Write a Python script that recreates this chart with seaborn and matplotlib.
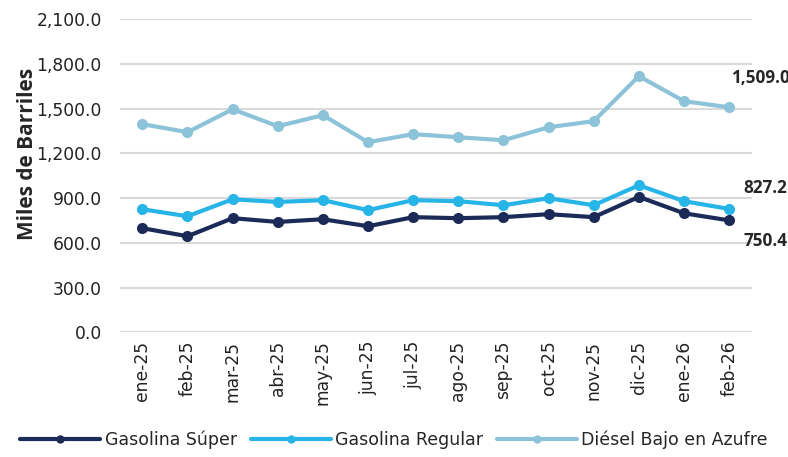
import matplotlib
matplotlib.use("Agg")
import matplotlib.pyplot as plt
import pandas as pd
import seaborn as sns
from matplotlib.ticker import FuncFormatter
from matplotlib.lines import Line2D

#%% data
meses = ['ene-25', 'feb-25', 'mar-25', 'abr-25', 'may-25', 'jun-25', 'jul-25',
         'ago-25', 'sep-25', 'oct-25', 'nov-25', 'dic-25', 'ene-26', 'feb-26']
super_ = [698, 644, 765, 740, 758, 711, 772, 765, 772, 792, 772, 908, 798, 750.4]
regular = [825, 778, 892, 874, 886, 819, 886, 879, 852, 899, 852, 986, 879, 827.2]
diesel = [1396, 1342, 1496, 1382, 1456, 1275, 1329, 1308, 1288, 1375, 1416, 1718, 1550, 1509.0]
series = ['Gasolina Súper', 'Gasolina Regular', 'Diésel Bajo en Azufre']
colores = ['#1B2A57', '#27B4E6', '#8CC3D9']

df = pd.DataFrame({'mes': meses * 3,
                   'valor': super_ + regular + diesel,
                   'serie': [s for s in series for _ in meses]})
df['x'] = df.groupby('serie').cumcount()

#%% graph
sns.set_theme(style='white')
plt.rcParams['font.family'] = ['DejaVu Sans']

fig = plt.figure(figsize=(7.88, 4.57), dpi=100)
ax = fig.add_axes([0.152, 0.273, 0.802, 0.685])

sns.lineplot(data=df, x='x', y='valor', hue='serie', palette=colores,
             marker='o', markersize=8, markeredgewidth=0, linewidth=3,
             ax=ax, legend=False, zorder=3)

ax.set_xlim(-0.5, 13.5)
ax.set_ylim(0, 2100)
ax.set_yticks(range(0, 2101, 300))
ax.yaxis.set_major_formatter(FuncFormatter(lambda v, p: f'{v:,.1f}'))
ax.set_xticks(range(len(meses)))
ax.set_xticklabels(meses, rotation=90, fontsize=12.3, color='#222222')
ax.tick_params(axis='y', labelsize=12.3, labelcolor='#222222', length=0, pad=13)
ax.tick_params(axis='x', length=0, pad=6)
ax.grid(axis='y', color='#D9D9D9', linewidth=1.5)
ax.set_axisbelow(True)
for s in ax.spines.values():
    s.set_visible(False)
ax.set_xlabel('')
ax.set_ylabel('Miles de Barriles', fontsize=15, fontweight='bold', family='Open Sans')
ax.yaxis.set_label_coords(-0.13, 0.57)

# data labels on last point
last = len(meses) - 1
lab = dict(textcoords='offset points', fontsize=12.3, fontweight='bold',
           family='Open Sans', ha='left', va='center')
ax.annotate(f'{diesel[-1]:,.1f}', (last, diesel[-1]), xytext=(1, 21), **lab)
ax.annotate(f'{regular[-1]:,.1f}', (last, regular[-1]), xytext=(10, 15), **lab)
ax.annotate(f'{super_[-1]:,.1f}', (last, super_[-1]), xytext=(10, -15), **lab)

# legend
handles = [Line2D([0], [0], color=c, lw=3, marker='o', markersize=6, markeredgewidth=0)
           for c in colores]
fig.legend(handles=handles, labels=series, loc='center', ncol=3,
           bbox_to_anchor=(0.5, 0.037), frameon=False, fontsize=12.5,
           handlelength=4.6, handletextpad=0.25, columnspacing=0.8)

plt.savefig('out.png', dpi=100)
